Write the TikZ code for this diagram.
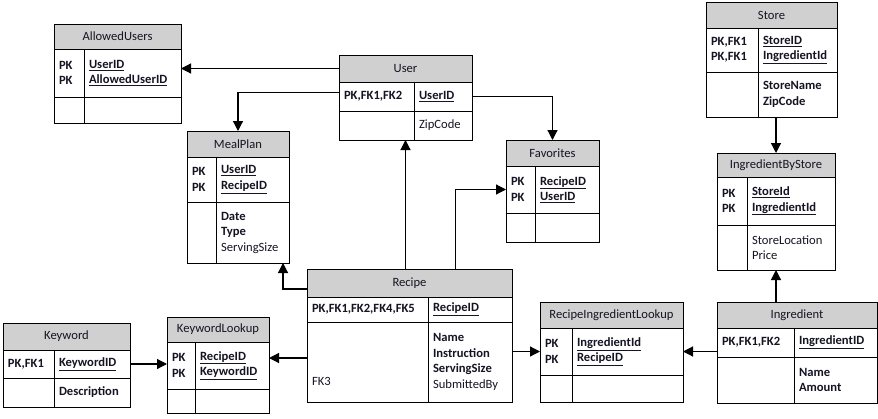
\documentclass[tikz,border=0pt]{standalone}
\usepackage{fontspec}
\setmainfont{Carlito}
\usetikzlibrary{arrows.meta,calc}
\definecolor{hdrgray}{RGB}{208,208,208}
\definecolor{txt}{RGB}{20,20,35}
\tikzset{
  hdr/.style={draw, fill=hdrgray, anchor=north west, inner sep=0pt, outer sep=0pt},
  cell/.style={draw, anchor=north west, inner xsep=5pt, inner ysep=0pt, outer sep=0pt, align=left},
  fk/.style={line width=1.2pt, -{Triangle[length=10pt,width=10pt]}}
}
\newcommand{\pk}[1]{\textbf{\underline{#1}}}

\begin{document}
\begin{tikzpicture}[x=1pt,y=-1pt,line width=0.8pt,
  every node/.style={font=\fontsize{12.6}{15.5}\selectfont, text=txt}]
\useasboundingbox (0,0) rectangle (878,418);
\node[hdr, minimum width=127, minimum height=25] (allowT) at (54,24) {AllowedUsers};
\node[cell, text width=20, minimum height=48] (allowK1) at (allowT.south west) {\textbf{PK}\\\textbf{PK}};
\node[cell, text width=87, minimum height=48] (allowF1) at (allowK1.north east) {\pk{UserID}\\\pk{AllowedUserID}};
\node[cell, text width=20, minimum height=26] (allowK2) at (allowK1.south west) {};
\node[cell, text width=87, minimum height=26] (allowF2) at (allowK2.north east) {};

\node[hdr, minimum width=133, minimum height=27] (userT) at (339,55) {User};
\node[cell, text width=65, minimum height=29] (userK1) at (userT.south west) {\textbf{PK,FK1,FK2}};
\node[cell, text width=48, minimum height=29] (userF1) at (userK1.north east) {\pk{UserID}};
\node[cell, text width=65, minimum height=29] (userK2) at (userK1.south west) {};
\node[cell, text width=48, minimum height=29] (userF2) at (userK2.north east) {ZipCode};

\node[hdr, minimum width=102, minimum height=26] (mealT) at (187,131) {MealPlan};
\node[cell, text width=19, minimum height=45] (mealK1) at (mealT.south west) {\textbf{PK}\\\textbf{PK}};
\node[cell, text width=63, minimum height=45] (mealF1) at (mealK1.north east) {\pk{UserID}\\\pk{RecipeID}};
\node[cell, text width=19, minimum height=61] (mealK2) at (mealK1.south west) {};
\node[cell, text width=63, minimum height=61] (mealF2) at (mealK2.north east) {\textbf{Date}\\\textbf{Type}\\ServingSize};

\node[hdr, minimum width=93, minimum height=26] (favT) at (506,140) {Favorites};
\node[cell, text width=19, minimum height=47] (favK1) at (favT.south west) {\textbf{PK}\\\textbf{PK}};
\node[cell, text width=54, minimum height=47] (favF1) at (favK1.north east) {\pk{RecipeID}\\\pk{UserID}};
\node[cell, text width=19, minimum height=29] (favK2) at (favK1.south west) {};
\node[cell, text width=54, minimum height=29] (favF2) at (favK2.north east) {};

\node[hdr, minimum width=131, minimum height=26] (storeT) at (706,2) {Store};
\node[cell, text width=42, minimum height=44] (storeK1) at (storeT.south west) {\textbf{PK,FK1}\\\textbf{PK,FK1}};
\node[cell, text width=69, minimum height=44] (storeF1) at (storeK1.north east) {\pk{StoreID}\\\pk{IngredientId}};
\node[cell, text width=42, minimum height=45] (storeK2) at (storeK1.south west) {};
\node[cell, text width=69, minimum height=45] (storeF2) at (storeK2.north east) {\textbf{StoreName}\\\textbf{ZipCode}};

\node[hdr, minimum width=118, minimum height=24] (ibsT) at (717,153) {IngredientByStore};
\node[cell, text width=20, minimum height=48] (ibsK1) at (ibsT.south west) {\textbf{PK}\\\textbf{PK}};
\node[cell, text width=78, minimum height=48] (ibsF1) at (ibsK1.north east) {\pk{StoreId}\\\pk{IngredientId}};
\node[cell, text width=20, minimum height=45] (ibsK2) at (ibsK1.south west) {};
\node[cell, text width=78, minimum height=45] (ibsF2) at (ibsK2.north east) {StoreLocation\\Price};

\node[hdr, minimum width=205, minimum height=28] (recipeT) at (307,269) {Recipe};
\node[cell, text width=111, minimum height=25] (recipeK1) at (recipeT.south west) {\textbf{PK,FK1,FK2,FK4,FK5}};
\node[cell, text width=74, minimum height=25] (recipeF1) at (recipeK1.north east) {\pk{RecipeID}};
\node[cell, text width=111, minimum height=80] (recipeK2) at (recipeK1.south west) {~\\~\\~\\FK3};
\node[cell, text width=74, minimum height=80] (recipeF2) at (recipeK2.north east) {\textbf{Name}\\\textbf{Instruction}\\\textbf{ServingSize}\\SubmittedBy};

\node[hdr, minimum width=127, minimum height=27] (keyT) at (3,323) {Keyword};
\node[cell, text width=41, minimum height=28] (keyK1) at (keyT.south west) {\textbf{PK,FK1}};
\node[cell, text width=66, minimum height=28] (keyF1) at (keyK1.north east) {\pk{KeywordID}};
\node[cell, text width=41, minimum height=29] (keyK2) at (keyK1.south west) {};
\node[cell, text width=66, minimum height=29] (keyF2) at (keyK2.north east) {\textbf{Description}};

\node[hdr, minimum width=102, minimum height=25] (klT) at (167,317) {KeywordLookup};
\node[cell, text width=18, minimum height=47] (klK1) at (klT.south west) {\textbf{PK}\\\textbf{PK}};
\node[cell, text width=64, minimum height=47] (klF1) at (klK1.north east) {\pk{RecipeID}\\\pk{KeywordID}};
\node[cell, text width=18, minimum height=24] (klK2) at (klK1.south west) {};
\node[cell, text width=64, minimum height=24] (klF2) at (klK2.north east) {};

\node[hdr, minimum width=143, minimum height=26] (rilT) at (540,302) {RecipeIngredientLookup};
\node[cell, text width=22, minimum height=47] (rilK1) at (rilT.south west) {\textbf{PK}\\\textbf{PK}};
\node[cell, text width=101, minimum height=47] (rilF1) at (rilK1.north east) {\pk{IngredientId}\\\pk{RecipeID}};
\node[cell, text width=22, minimum height=27] (rilK2) at (rilK1.south west) {};
\node[cell, text width=101, minimum height=27] (rilF2) at (rilK2.north east) {};

\node[hdr, minimum width=160, minimum height=26] (ingT) at (717,302) {Ingredient};
\node[cell, text width=67, minimum height=29] (ingK1) at (ingT.south west) {\textbf{PK,FK1,FK2}};
\node[cell, text width=73, minimum height=29] (ingF1) at (ingK1.north east) {\pk{IngredientID}};
\node[cell, text width=67, minimum height=46] (ingK2) at (ingK1.south west) {};
\node[cell, text width=73, minimum height=46] (ingF2) at (ingK2.north east) {\textbf{Name}\\\textbf{Amount}};

\draw[fk] (userT.west) -- (userT.west -| allowF1.east);
\draw[fk] ($(userK1.west)+(0,-4)$) -| (mealT.north);
\draw[fk] (userF1.east) -| (favT.north);
\draw[fk] (userT.center |- recipeT.north) -- (userT.center |- userK2.south);
\draw[fk] ($(recipeT.south west)+(0,-8)$) -| ($(mealF2.south east)+(-6,0)$);
\draw[fk] ($(recipeT.north)+(46,0)$) |- (favK1.west);
\draw[fk] ($(recipeK2.west)+(0,-4)$) -- ($(recipeK2.west -| klF1.east)+(0,-4)$);
\draw[fk] (keyF1.east) -- (keyF1.east -| klK1.west);
\draw[fk] (rilK1.west -| recipeF2.east) -- (rilK1.west);
\draw[fk] (rilF1.east -| ingK1.west) -- (rilF1.east);
\draw[fk] (ibsT.center |- ingT.north) -- (ibsT.center |- ibsK2.south);
\draw[fk] (ibsT.north |- storeK2.south) -- (ibsT.north);
\end{tikzpicture}
\end{document}
